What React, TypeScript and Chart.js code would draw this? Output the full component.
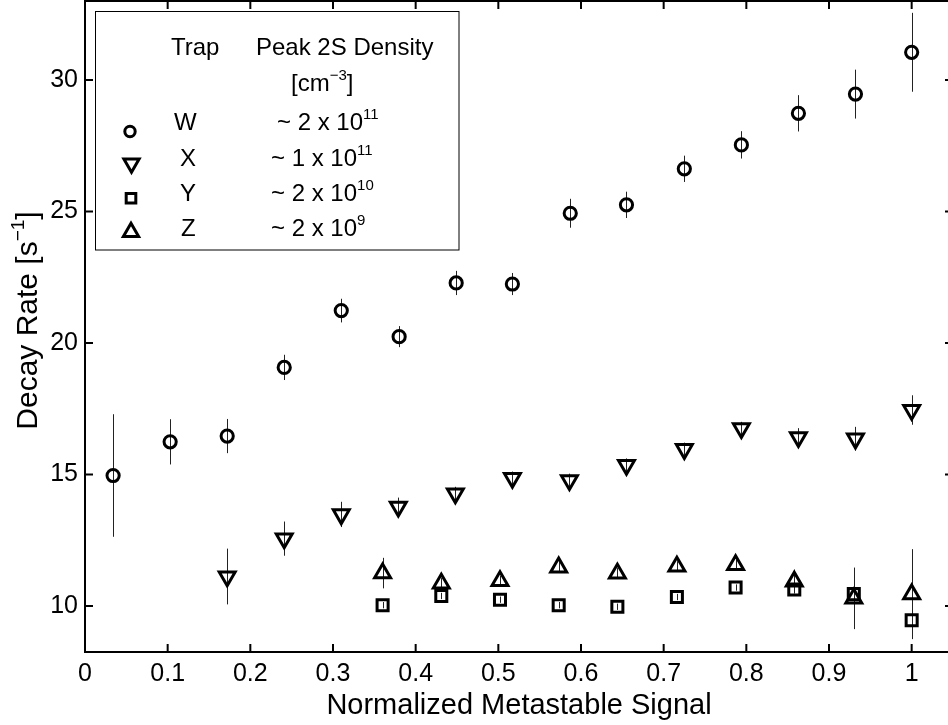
import React, { useEffect, useRef } from 'react';
import { Chart, registerables } from 'chart.js';

Chart.register(...registerables);

// ---- data ----
const X_TICKS = [0, 0.1, 0.2, 0.3, 0.4, 0.5, 0.6, 0.7, 0.8, 0.9, 1.0];
const X_TICK_LABELS = ['0', '0.1', '0.2', '0.3', '0.4', '0.5', '0.6', '0.7', '0.8', '0.9', '1'];
const Y_TICKS = [10, 15, 20, 25, 30];
const Y_TICK_LABELS = ['10', '15', '20', '25', '30'];

// Trap W (circles)
const W_X = [0.034, 0.103, 0.172, 0.241, 0.31, 0.38, 0.449, 0.517, 0.587, 0.655, 0.725, 0.794, 0.863, 0.932, 1.0];
const W_Y = [14.96, 16.24, 16.46, 19.07, 21.23, 20.24, 22.28, 22.24, 24.93, 25.25, 26.62, 27.53, 28.73, 29.46, 31.05];
const W_ERR = [2.33, 0.86, 0.65, 0.48, 0.45, 0.4, 0.46, 0.42, 0.55, 0.5, 0.5, 0.52, 0.69, 0.93, 1.5];

// Trap X (down triangles)
const X_X = [0.172, 0.241, 0.31, 0.379, 0.448, 0.517, 0.586, 0.655, 0.725, 0.794, 0.863, 0.932, 1.0];
const X_Y = [11.12, 12.56, 13.48, 13.77, 14.27, 14.86, 14.78, 15.36, 15.96, 16.75, 16.41, 16.36, 17.45];
const X_ERR = [1.06, 0.65, 0.48, 0.35, 0.26, 0.25, 0.25, 0.25, 0.25, 0.25, 0.35, 0.45, 0.56];

// Trap Y (squares)
const Y_X = [0.36, 0.431, 0.502, 0.573, 0.644, 0.716, 0.787, 0.858, 0.93, 1.0];
const Y_Y = [10.03, 10.38, 10.24, 10.03, 9.97, 10.34, 10.7, 10.63, 10.45, 9.46];
const Y_ERR = [0.12, 0.12, 0.12, 0.12, 0.12, 0.12, 0.12, 0.15, 0.3, 0.5];

// Trap Z (up triangles)
const Z_X = [0.36, 0.431, 0.502, 0.573, 0.644, 0.716, 0.787, 0.858, 0.93, 1.0];
const Z_Y = [11.25, 10.86, 10.95, 11.47, 11.24, 11.5, 11.56, 10.93, 10.29, 10.45];
const Z_ERR = [0.58, 0.2, 0.2, 0.2, 0.2, 0.2, 0.2, 0.45, 1.17, 1.71];

const TRAP_NAMES = ['W', 'X', 'Y', 'Z'];
const DENSITY_MANTISSA = ['~ 2 x 10', '~ 1 x 10', '~ 2 x 10', '~ 2 x 10'];
const DENSITY_EXP = ['11', '11', '10', '9'];

const X_TITLE = 'Normalized Metastable Signal';
const Y_TITLE = 'Decay Rate [s';

const FONT = "'Liberation Sans', Arial, Helvetica, sans-serif";
const MINUS = '\u2212';

type Part = [string, boolean];

function drawRich(ctx: CanvasRenderingContext2D, parts: Part[], x: number, y: number, size: number, align: 'left' | 'center') {
  const supSize = Math.round(size * 0.62);
  const main = `${size}px ${FONT}`;
  const sup = `${supSize}px ${FONT}`;
  let total = 0;
  const widths = parts.map(([t, s]) => {
    ctx.font = s ? sup : main;
    const w = ctx.measureText(t).width;
    total += w;
    return w;
  });
  let cx = align === 'center' ? x - total / 2 : x;
  ctx.textAlign = 'left';
  ctx.textBaseline = 'alphabetic';
  parts.forEach(([t, s], i) => {
    ctx.font = s ? sup : main;
    ctx.fillText(t, cx, s ? y - size * 0.45 : y);
    cx += widths[i];
  });
}

function drawMarker(ctx: CanvasRenderingContext2D, style: string, x: number, y: number, r: number, rot: number) {
  ctx.beginPath();
  if (style === 'circle') {
    ctx.arc(x, y, r, 0, Math.PI * 2);
  } else if (style === 'rect') {
    const s = r * Math.SQRT1_2;
    ctx.rect(x - s, y - s, 2 * s, 2 * s);
  } else {
    let a = (rot * Math.PI) / 180;
    ctx.moveTo(x + Math.sin(a) * r, y - Math.cos(a) * r);
    a += (2 * Math.PI) / 3;
    ctx.lineTo(x + Math.sin(a) * r, y - Math.cos(a) * r);
    a += (2 * Math.PI) / 3;
    ctx.lineTo(x + Math.sin(a) * r, y - Math.cos(a) * r);
    ctx.closePath();
  }
  ctx.stroke();
}

const decor = {
  id: 'decor',
  beforeDatasetsDraw(chart: any) {
    const ctx: CanvasRenderingContext2D = chart.ctx;
    const xs = chart.scales.x;
    const ys = chart.scales.y;
    ctx.save();
    ctx.strokeStyle = '#222';
    ctx.lineWidth = 1;
    chart.data.datasets.forEach((ds: any) => {
      ds.data.forEach((p: any, i: number) => {
        const e = ds.errors[i];
        const px = Math.round(xs.getPixelForValue(p.x)) + 0.5;
        ctx.beginPath();
        ctx.moveTo(px, ys.getPixelForValue(p.y - e));
        ctx.lineTo(px, ys.getPixelForValue(p.y + e));
        ctx.stroke();
      });
    });
    ctx.restore();
  },
  afterDraw(chart: any) {
    const ctx: CanvasRenderingContext2D = chart.ctx;
    const { left, right, top, bottom } = chart.chartArea;
    const xs = chart.scales.x;
    const ys = chart.scales.y;
    ctx.save();
    ctx.strokeStyle = '#000';
    ctx.fillStyle = '#000';
    // axes box
    ctx.lineWidth = 2;
    ctx.strokeRect(left, top, right - left, bottom - top);
    // inward ticks
    const TL = 8;
    ctx.beginPath();
    X_TICKS.forEach((v) => {
      const px = xs.getPixelForValue(v);
      ctx.moveTo(px, bottom);
      ctx.lineTo(px, bottom - TL);
      ctx.moveTo(px, top);
      ctx.lineTo(px, top + TL);
    });
    Y_TICKS.forEach((v) => {
      const py = ys.getPixelForValue(v);
      ctx.moveTo(left, py);
      ctx.lineTo(left + TL, py);
      ctx.moveTo(right, py);
      ctx.lineTo(right - TL, py);
    });
    ctx.stroke();

    // axis titles
    drawRich(ctx, [[X_TITLE, false]], (left + right) / 2, 714, 29, 'center');
    ctx.save();
    ctx.translate(37, (top + bottom) / 2 - 6);
    ctx.rotate(-Math.PI / 2);
    drawRich(ctx, [[Y_TITLE, false], [MINUS + '1', true], [']', false]], 0, 0, 30, 'center');
    ctx.restore();

    // legend box
    ctx.lineWidth = 1;
    ctx.fillStyle = '#fff';
    ctx.fillRect(96, 11, 363, 239);
    ctx.strokeRect(95.5, 11.5, 363.5, 238.5);
    ctx.fillStyle = '#000';
    const LS = 24;
    drawRich(ctx, [['Trap', false]], 171, 55, LS, 'left');
    drawRich(ctx, [['Peak 2S Density', false]], 256, 55, LS, 'left');
    drawRich(ctx, [['[cm', false], [MINUS + '3', true], [']', false]], 291, 91, LS, 'left');
    const rowsY = [130, 166, 201, 236];
    const nameX = [174, 180, 180, 181];
    const densX = [277, 271, 271, 271];
    rowsY.forEach((y, i) => {
      drawRich(ctx, [[TRAP_NAMES[i], false]], nameX[i], y, LS, 'left');
      drawRich(ctx, [[DENSITY_MANTISSA[i], false], [DENSITY_EXP[i], true]], densX[i], y, LS, 'left');
    });
    // legend markers
    ctx.lineWidth = 3;
    ctx.strokeStyle = '#000';
    drawMarker(ctx, 'circle', 130, 131.5, 5.2, 0);
    drawMarker(ctx, 'triangle', 131.5, 163.5, 8.8, 180);
    drawMarker(ctx, 'rect', 131, 198.3, 6.8, 0);
    drawMarker(ctx, 'triangle', 131, 232, 8.8, 0);
    ctx.restore();
  },
};

function makeData(xs: number[], ys: number[]) {
  return xs.map((x, i) => ({ x, y: ys[i] }));
}

export default function App() {
  const ref = useRef<HTMLCanvasElement>(null);
  useEffect(() => {
    if (!ref.current) return;
    const common = {
      showLine: false,
      pointBorderColor: '#000',
      pointBackgroundColor: 'rgba(0,0,0,0)',
      pointBorderWidth: 3,
      pointHoverRadius: 0,
    };
    const chart = new Chart(ref.current, {
      type: 'scatter',
      data: {
        datasets: [
          { ...common, label: 'W', data: makeData(W_X, W_Y), errors: W_ERR, pointStyle: 'circle', pointRadius: 6.1 } as any,
          { ...common, label: 'X', data: makeData(X_X, X_Y), errors: X_ERR, pointStyle: 'triangle', pointRotation: 180, pointRadius: 9.2 } as any,
          { ...common, label: 'Y', data: makeData(Y_X, Y_Y), errors: Y_ERR, pointStyle: 'rect', pointRadius: 7.8 } as any,
          { ...common, label: 'Z', data: makeData(Z_X, Z_Y), errors: Z_ERR, pointStyle: 'triangle', pointRotation: 0, pointRadius: 9.2 } as any,
        ],
      },
      options: {
        responsive: false,
        animation: false,
        devicePixelRatio: 1,
        layout: { autoPadding: false, padding: { top: 1, right: 3, left: 0, bottom: 0 } },
        plugins: { legend: { display: false }, tooltip: { enabled: false } },
        scales: {
          x: {
            type: 'linear',
            min: 0,
            max: 1.05,
            afterBuildTicks: (s: any) => {
              s.ticks = X_TICKS.map((v) => ({ value: v }));
            },
            afterFit: (s: any) => {
              s.height = 73;
              s.paddingLeft = 0;
              s.paddingRight = 0;
            },
            ticks: {
              callback: (_v: any, i: number) => X_TICK_LABELS[i],
              font: { size: 25, family: FONT },
              color: '#000',
              padding: 7,
              maxRotation: 0,
              autoSkip: false,
            },
            grid: { display: false, drawTicks: false },
            border: { display: false },
          },
          y: {
            type: 'linear',
            min: 8.25,
            max: 33,
            afterBuildTicks: (s: any) => {
              s.ticks = Y_TICKS.map((v) => ({ value: v }));
            },
            afterFit: (s: any) => {
              s.width = 85;
              s.paddingTop = 0;
              s.paddingBottom = 0;
            },
            ticks: {
              callback: (_v: any, i: number) => Y_TICK_LABELS[i],
              font: { size: 25, family: FONT },
              color: '#000',
              padding: 7,
              autoSkip: false,
            },
            grid: { display: false, drawTicks: false },
            border: { display: false },
          },
        },
      },
      plugins: [decor],
    } as any);
    return () => chart.destroy();
  }, []);
  return (
    <div style={{ position: 'absolute', left: 0, top: 0, width: 948, height: 725, overflow: 'hidden', background: '#fff' }}>
      <canvas ref={ref} width={956} height={725} style={{ display: 'block', width: 956, height: 725 }} />
    </div>
  );
}
